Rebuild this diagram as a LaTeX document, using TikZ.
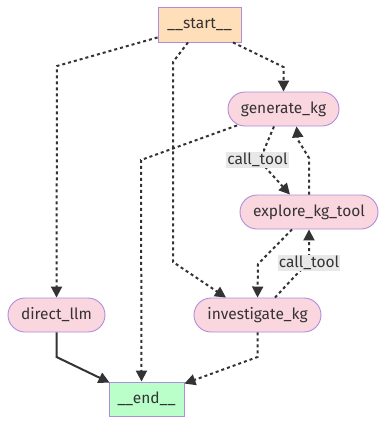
\documentclass[tikz,border=0pt]{standalone}
\usepackage{fontspec}
\setmainfont{Fira Sans}
\usetikzlibrary{arrows.meta,calc}
\definecolor{startfill}{HTML}{FFDFBA}
\definecolor{endfill}{HTML}{BAFFC9}
\definecolor{nodefill}{HTML}{FAD7DE}
\definecolor{nodeborder}{HTML}{B08CDC}
\definecolor{edgecol}{HTML}{333333}
\definecolor{labelfill}{HTML}{E8E8E8}
\tikzset{
  base/.style={draw=nodeborder, line width=0.9pt, text=edgecol, font=\fontsize{15.5}{18}\selectfont, inner sep=0pt, minimum height=34pt},
  terminal/.style={base, rectangle},
  stepnode/.style={base, fill=nodefill, rounded corners=17pt},
  edge/.style={draw=edgecol, line width=2pt, -{Triangle[length=11pt,width=11pt]}},
  cond/.style={edge, dash pattern=on 3pt off 3pt},
  edgelabel/.style={fill=labelfill, text=edgecol, font=\fontsize{15.5}{18}\selectfont, inner sep=1pt, minimum height=16pt}
}
\begin{document}
\begin{tikzpicture}[x=1pt,y=-1pt]
\useasboundingbox[fill=white] (0,0) rectangle (386,424);

% graph nodes
\node[terminal, fill=startfill, minimum width=83pt, minimum height=35pt] (start) at (199.5,24.5) {\_\_start\_\_};
\node[stepnode, minimum width=111pt] (generate) at (283.5,109) {generate\_kg};
\node[stepnode, minimum width=138pt] (explore) at (309,212) {explore\_kg\_tool};
\node[stepnode, minimum width=97pt] (direct) at (56.5,315) {direct\_llm};
\node[stepnode, minimum width=127pt] (investigate) at (257.5,315) {investigate\_kg};
\node[terminal, fill=endfill, minimum width=75pt] (end) at (146.5,399) {\_\_end\_\_};

% edges out of __start__
\draw[cond] ($(start.south west)+(0,-5)$) -- (57,66) -- (direct.north);
\draw[cond] ($(start.south)+(-11.5,0)$) -- (173,62) -- (173,262) -- ($(investigate.north)+(-31.5,0)$);
\draw[cond] ($(start.south)+(33.5,0)$) -- (283.5,67) -- (generate.north);

% edges out of generate_kg
\draw[cond] ($(generate.south)+(-46.5,-1)$) -- (141,160) -- ($(end.north)+(-5,0)$);
\draw[cond] ($(generate.south)+(-9.5,0)$) -- (264,150) -- (266,168) -- ($(explore.north)+(-19,0)$);

% edges out of explore_kg_tool
\draw[cond] (explore.north) -- (309,158) -- (298,140) -- ($(generate.south)+(13,0)$);
\draw[cond] ($(explore.south)+(-17,0)$) -- (258,264) -- (investigate.north);

% edges out of investigate_kg
\draw[cond] ($(investigate.north)+(17.5,0)$) -- (295,276) -- (309,262) -- (explore.south);
\draw[cond] (investigate.south) -- (257.5,357) -- ($(end.north east)+(0,2)$);

% edge out of direct_llm
\draw[edge] (direct.south) -- (56.5,357) -- ($(end.north west)+(1,1)$);

% edge labels
\node[edgelabel] (lblgen) at (257.5,160) {call\_tool};
\node[edgelabel] (lblinv) at (309,263) {call\_tool};
\end{tikzpicture}
\end{document}
